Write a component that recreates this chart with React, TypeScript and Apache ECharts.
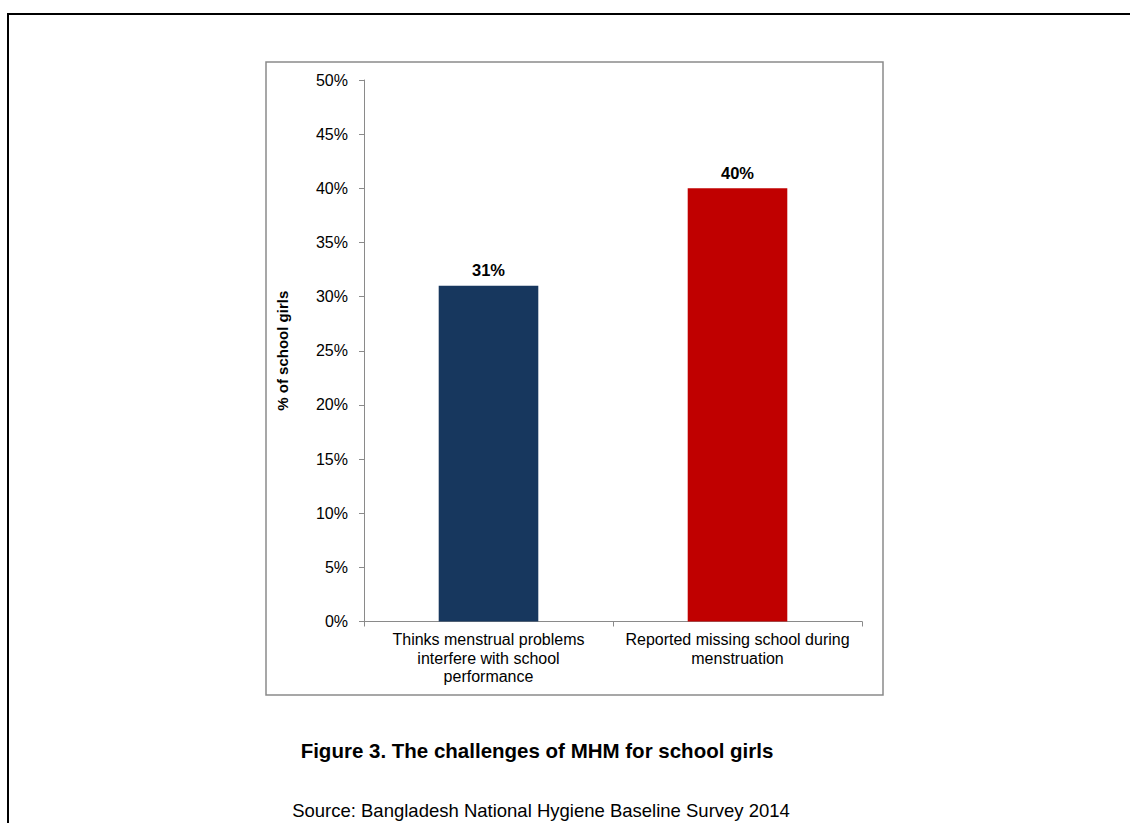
import React, { useEffect, useRef } from "react";
import * as echarts from "echarts";

const categories = [
  "Thinks menstrual problems\ninterfere with school\nperformance",
  "Reported missing school during\nmenstruation",
];
const values = [31, 40];
const barColors = ["#17375E", "#C00000"];
const yAxisName = "% of school girls";
const titleText = "Figure 3. The challenges of MHM for school girls";
const sourceText = "Source: Bangladesh National Hygiene Baseline Survey 2014";
const FONT = "'Liberation Sans', Arial, sans-serif";

export default function App() {
  const ref = useRef<HTMLDivElement>(null);
  useEffect(() => {
    if (!ref.current) return;
    const chart = echarts.init(ref.current, null, { renderer: "svg" });
    chart.setOption({
      animation: false,
      backgroundColor: "#fff",
      textStyle: { fontFamily: FONT },
      title: [
        {
          text: titleText,
          left: 532,
          top: 735,
          textAlign: "center",
          textStyle: { fontFamily: FONT, fontSize: 20.5, fontWeight: "bold", color: "#000" },
        },
        {
          text: sourceText,
          left: 536,
          top: 796,
          textAlign: "center",
          textStyle: { fontFamily: FONT, fontSize: 18.5, fontWeight: "normal", color: "#000" },
        },
      ],
      graphic: [
        {
          type: "rect",
          shape: { x: 8, y: 14, width: 1300, height: 1000 },
          style: { fill: "none", stroke: "#000", lineWidth: 2 },
          silent: true,
        },
        {
          type: "rect",
          shape: { x: 266, y: 62, width: 617, height: 633 },
          style: { fill: "none", stroke: "#8a8a8a", lineWidth: 1.5 },
          silent: true,
        },
      ],
      grid: { left: 364, right: 268, top: 80, bottom: 201.5 },
      xAxis: {
        type: "category",
        data: categories,
        axisLine: { lineStyle: { color: "#8a8a8a", width: 1 } },
        axisTick: { show: true, length: 5, lineStyle: { color: "#8a8a8a" } },
        axisLabel: {
          color: "#000",
          fontFamily: FONT,
          fontSize: 16,
          lineHeight: 18.5,
          margin: 9,
          interval: 0,
        },
      },
      yAxis: {
        type: "value",
        min: 0,
        max: 50,
        interval: 5,
        name: yAxisName,
        nameLocation: "middle",
        nameGap: 74,
        nameRotate: 90,
        nameTextStyle: { color: "#000", fontFamily: FONT, fontSize: 15, fontWeight: "bold" },
        splitLine: { show: false },
        axisLine: { show: true, lineStyle: { color: "#8a8a8a", width: 1 } },
        axisTick: { show: true, length: 5, lineStyle: { color: "#8a8a8a" } },
        axisLabel: {
          color: "#000",
          fontFamily: FONT,
          fontSize: 16,
          margin: 16,
          formatter: "{value}%",
        },
      },
      series: [
        {
          type: "bar",
          barWidth: "40%",
          data: values.map((v, i) => ({ value: v, itemStyle: { color: barColors[i] } })),
          label: {
            show: true,
            position: "top",
            distance: 7,
            formatter: "{c}%",
            color: "#000",
            fontFamily: FONT,
            fontSize: 16.5,
            fontWeight: "bold",
          },
        },
      ],
    });
    return () => chart.dispose();
  }, []);
  return (
    <div
      ref={ref}
      style={{ position: "fixed", left: 0, top: 0, width: 1130, height: 823 }}
    />
  );
}
